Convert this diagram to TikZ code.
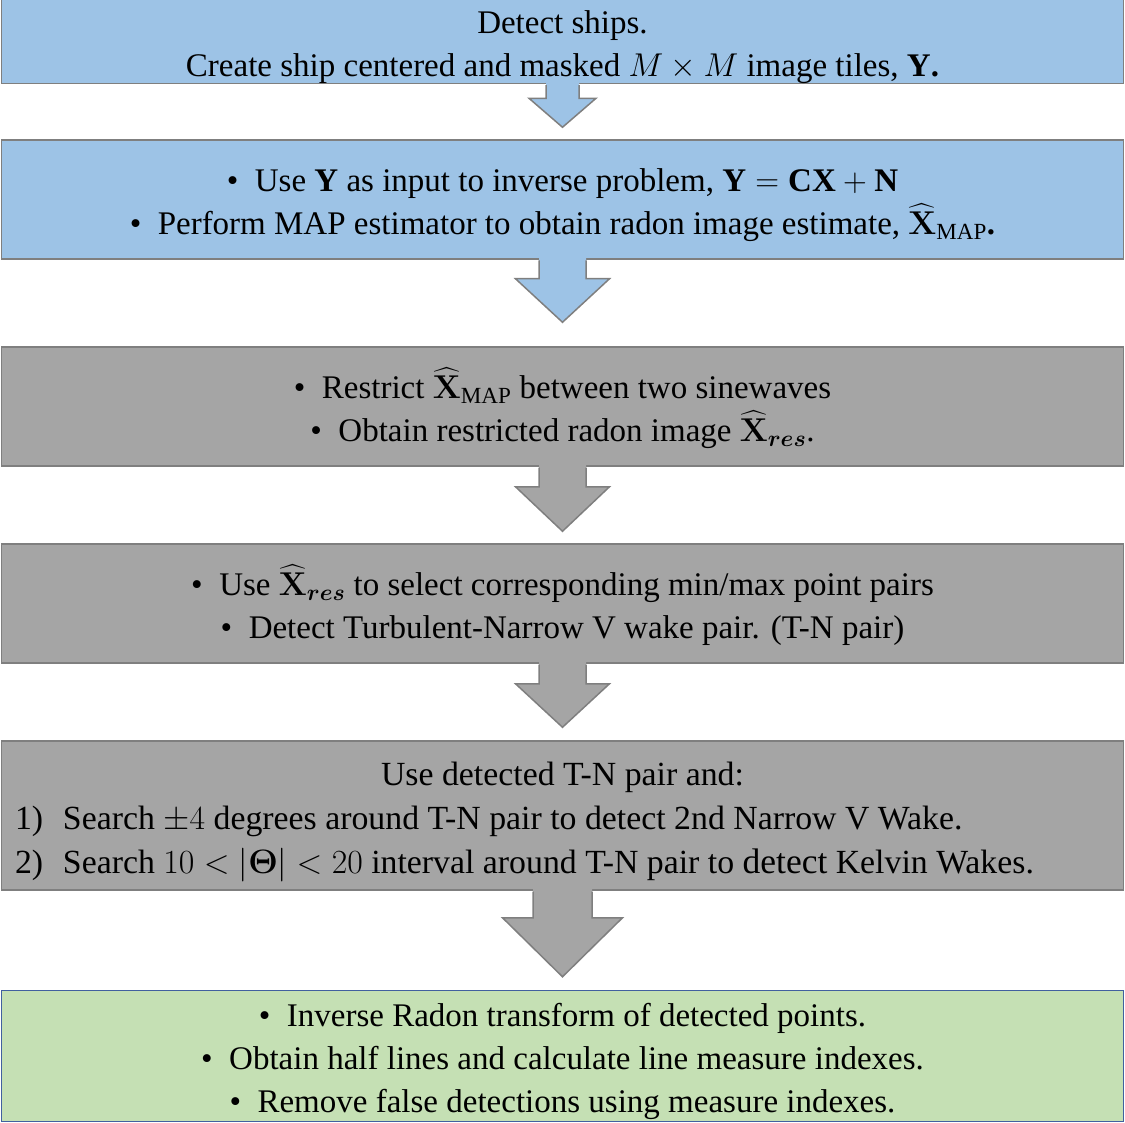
\RequirePackage{fix-cm}
\documentclass[tikz,border=0pt]{standalone}
\usepackage{amsmath,bm}
\usepackage{fontspec}
\setmainfont{Liberation Serif}
\usetikzlibrary{calc}
\tikzset{every picture/.style={line width=1.5pt}}

\definecolor{stepblue}{HTML}{9DC3E6}
\definecolor{stepgray}{HTML}{A5A5A5}
\definecolor{stepgreen}{HTML}{C5E0B4}
\definecolor{edgegray}{HTML}{7F7F7F}
\definecolor{edgeblue}{HTML}{41609F}

\newcommand{\Xhat}{\bm{\widehat{\mathbf{X}}}}

\begin{document}
\begin{tikzpicture}[x=1pt, y=-1pt,
    stepbox/.style={draw=edgegray, minimum width=1122pt, inner sep=0pt,
        text width=1095pt, align=flush center,
        font=\fontsize{33}{43}\selectfont,
        execute at begin node={\rule{0pt}{#1}}},
    stepbox/.default=34pt]

    \useasboundingbox (0,0) rectangle (1125,1123);

    % --- boxes ---
    \node[stepbox, fill=stepblue, minimum height=82pt] (detect) at (562.5, 41.5)
        {Detect ships.\\Create ship centered and masked $M\times M$ image tiles, $\mathbf{Y}$\textbf{.}};

    \node[stepbox, fill=stepblue, minimum height=119pt] (mapest) at (562.5, 199.5)
        {\textbullet\ \ Use $\mathbf{Y}$ as input to inverse problem, $\mathbf{Y}=\mathbf{CX}+\mathbf{N}$\\
         \textbullet\ \ Perform MAP estimator to obtain radon image estimate, $\Xhat_{\mathrm{MAP}}$\textbf{.}};

    \node[stepbox, fill=stepgray, minimum height=119pt] (restrict) at (562.5, 406.5)
        {\textbullet\ \ Restrict $\Xhat_{\mathrm{MAP}}$ between two sinewaves\\
         \textbullet\ \ Obtain restricted radon image $\Xhat_{\bm{res}}$.};

    \node[stepbox, fill=stepgray, minimum height=119pt] (pairs) at (562.5, 603.5)
        {\textbullet\ \ Use $\Xhat_{\bm{res}}$ to select corresponding min/max point pairs\\
         \textbullet\ \ Detect Turbulent-Narrow V wake pair. (T-N pair)};

    \node[stepbox=36pt, fill=stepgray, minimum height=149pt, align=flush left,
        font=\fontsize{33.8}{44}\selectfont] (search) at (562.5, 815.5)
        {\makebox[1095pt]{Use detected T-N pair and:}\\
         \makebox[48pt][l]{1)}Search $\pm4$ degrees around T-N pair to detect 2nd Narrow V Wake.\\
         \makebox[48pt][l]{2)}Search $10<|\bm{\Theta}|<20$ interval around T-N pair to {\fontsize{35.5}{44}\selectfont detect} Kelvin Wakes.};

    \node[stepbox, draw=edgeblue, fill=stepgreen, minimum height=131pt] (inverse) at (562.5, 1056)
        {\textbullet\ \ Inverse Radon transform of detected points.\\
         \textbullet\ \ Obtain half lines and calculate line measure indexes.\\
         \textbullet\ \ Remove false detections using measure indexes.};

    % --- block arrows: from/to/colour/shaft/head/shaft length/gap ---
    \foreach \from/\to/\col/\sw/\hw/\sl/\gap in {
        detect/mapest/stepblue/16.5/33.5/14/12,
        mapest/restrict/stepblue/23.5/47/19/24,
        restrict/pairs/stepgray/23.5/47/20/12,
        pairs/search/stepgray/23.5/47/20/13,
        search/inverse/stepgray/29.5/60/27/13} {
        \path (\from.south) coordinate (s) ($(\to.north)+(0,-\gap)$) coordinate (t);
        \fill[\col] ($(s)+(-\sw,-2)$) -- ($(s)+(-\sw,\sl)$) -- ($(s)+(-\hw,\sl)$) -- (t)
            -- ($(s)+(\hw,\sl)$) -- ($(s)+(\sw,\sl)$) -- ($(s)+(\sw,-2)$) -- cycle;
        \draw[edgegray, line join=miter] ($(s)+(-\sw,0.75)$) -- ($(s)+(-\sw,\sl)$) -- ($(s)+(-\hw,\sl)$) -- (t)
            -- ($(s)+(\hw,\sl)$) -- ($(s)+(\sw,\sl)$) -- ($(s)+(\sw,0.75)$);
    }

\end{tikzpicture}
\end{document}
